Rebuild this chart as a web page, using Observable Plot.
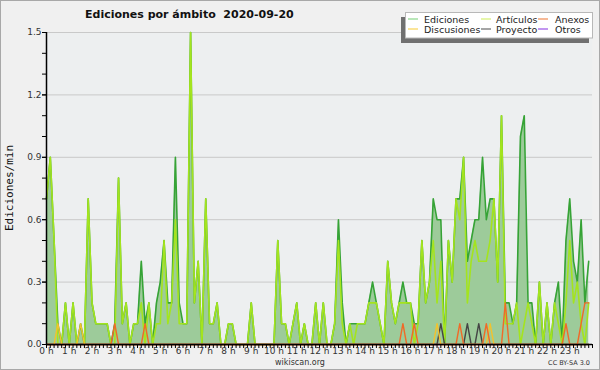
<!DOCTYPE html>
<html>
<head>
<meta charset="utf-8">
<script src="https://cdn.jsdelivr.net/npm/d3@7"></script>
<script src="https://cdn.jsdelivr.net/npm/@observablehq/plot@0.6"></script>
<style>
  html, body { margin: 0; padding: 0; background: #f0f0f0; }
  #chart { width: 600px; height: 370px; }
</style>
</head>
<body>
<div id="chart"></div>
<script>
// ---- data: edits per minute, one value per 10-minute bin (6 per hour) ----
const ediciones = [
  0.7, 0.9, 0.5, 0.1, 0,   0.2,   // 0 h
  0,   0.2, 0,   0.1, 0,   0.7,   // 1 h
  0.2, 0.1, 0.1, 0.1, 0.1, 0,     // 2 h
  0.1, 0.8, 0.1, 0.2, 0,   0.1,   // 3 h
  0.1, 0.4, 0.1, 0.2, 0,   0.2,   // 4 h
  0.3, 0.5, 0.2, 0.2, 0.9, 0.2,   // 5 h
  0.1, 0.1, 1.5, 0.2, 0.4, 0,     // 6 h
  0.7, 0.1, 0.1, 0.2, 0,   0,     // 7 h
  0.1, 0.1, 0,   0,   0,   0,     // 8 h
  0.2, 0,   0,   0,   0,   0,     // 9 h
  0,   0.5, 0.1, 0.1, 0,   0.1,   // 10 h
  0.2, 0,   0.1, 0,   0,   0.2,   // 11 h
  0,   0.2, 0,   0,   0.1, 0.6,   // 12 h
  0.2, 0,   0.1, 0.1, 0.1, 0.1,   // 13 h
  0.1, 0.2, 0.3, 0.2, 0.1, 0,     // 14 h
  0.4, 0.2, 0.1, 0.2, 0.3, 0.2,   // 15 h
  0.2, 0.1, 0.1, 0.5, 0.2, 0.3,   // 16 h
  0.7, 0.6, 0.6, 0,   0.5, 0.3,   // 17 h
  0.7, 0.7, 0.9, 0.4, 0.5, 0.6,   // 18 h
  0.6, 0.9, 0.6, 0.7, 0.7, 0.3,   // 19 h
  1.1, 0.2, 0.2, 0.1, 0.2, 1.0,   // 20 h
  1.1, 0.2, 0.2, 0,   0.3, 0,     // 21 h
  0.2, 0,   0.2, 0.3, 0,   0.5,   // 22 h
  0.7, 0.4, 0.3, 0.6, 0.2, 0.4    // 23 h
];
const articulos = [
  0.7, 0.9, 0.5, 0,   0,   0.2,
  0,   0.2, 0,   0,   0,   0.7,
  0.2, 0.1, 0.1, 0.1, 0.1, 0,
  0,   0.8, 0.1, 0.2, 0,   0.1,
  0.1, 0.2, 0,   0.2, 0,   0.1,
  0.1, 0.5, 0.1, 0.2, 0.6, 0.1,
  0.1, 0.1, 1.5, 0.2, 0.4, 0,
  0.7, 0.1, 0.1, 0.2, 0,   0,
  0.1, 0.1, 0,   0,   0,   0,
  0.2, 0,   0,   0,   0,   0,
  0,   0.5, 0.1, 0.1, 0,   0.1,
  0.2, 0,   0.1, 0,   0,   0.2,
  0,   0.2, 0,   0,   0.1, 0.5,
  0.1, 0,   0.1, 0,   0.1, 0.1,
  0.1, 0.2, 0.2, 0.2, 0.1, 0,
  0.4, 0.2, 0.1, 0.2, 0.2, 0.2,
  0.2, 0,   0.1, 0.5, 0.2, 0.3,
  0.5, 0.2, 0.4, 0,   0.5, 0.3,
  0.7, 0.6, 0.9, 0.2, 0.4, 0.5,
  0.4, 0.4, 0.4, 0.5, 0.7, 0.3,
  1.1, 0.1, 0.1, 0.1, 0.2, 0,
  0.1, 0.2, 0.1, 0,   0.3, 0,
  0.2, 0,   0.2, 0.1, 0,   0.2,
  0.5, 0.2, 0.3, 0.1, 0,   0.2
];
const anexos = [
  0, 0, 0, 0, 0, 0,
  0, 0, 0, 0, 0, 0,
  0, 0, 0, 0, 0, 0,
  0.1, 0, 0, 0, 0, 0,
  0, 0, 0.1, 0, 0, 0,
  0, 0, 0, 0, 0, 0,
  0, 0, 0, 0, 0, 0,
  0, 0, 0, 0, 0, 0,
  0, 0, 0, 0, 0, 0,
  0, 0, 0, 0, 0, 0,
  0, 0, 0, 0, 0, 0,
  0, 0, 0, 0, 0, 0,
  0, 0, 0, 0, 0, 0,
  0, 0, 0, 0, 0, 0,
  0, 0, 0, 0, 0, 0,
  0, 0, 0, 0, 0.1, 0,
  0, 0.1, 0, 0, 0, 0,
  0, 0, 0, 0, 0, 0,
  0, 0.1, 0, 0, 0, 0,
  0, 0, 0.1, 0, 0, 0,
  0, 0.2, 0, 0, 0, 0,
  0, 0, 0, 0, 0, 0,
  0, 0, 0, 0, 0, 0.1,
  0, 0, 0, 0.1, 0.2, 0.2
];
const discusiones = [
  0, 0, 0, 0.1, 0, 0,
  0, 0, 0, 0.1, 0, 0,
  0, 0, 0, 0, 0, 0,
  0, 0, 0, 0, 0, 0,
  0, 0, 0, 0, 0, 0,
  0, 0, 0, 0, 0, 0,
  0, 0, 0, 0, 0, 0,
  0, 0, 0, 0, 0, 0,
  0, 0, 0, 0, 0, 0,
  0, 0, 0, 0, 0, 0,
  0, 0, 0, 0, 0, 0,
  0, 0, 0, 0, 0, 0,
  0, 0, 0, 0, 0, 0,
  0, 0, 0, 0, 0, 0,
  0, 0, 0, 0, 0, 0,
  0, 0, 0, 0, 0, 0,
  0, 0, 0, 0, 0, 0,
  0, 0.1, 0, 0, 0, 0,
  0, 0, 0, 0, 0, 0,
  0, 0, 0, 0.1, 0, 0,
  0, 0, 0, 0, 0, 0,
  0, 0, 0, 0, 0, 0,
  0, 0, 0, 0, 0, 0,
  0, 0, 0, 0, 0, 0
];
const proyecto = [
  0, 0, 0, 0, 0, 0,
  0, 0, 0, 0, 0, 0,
  0, 0, 0, 0, 0, 0,
  0, 0, 0, 0, 0, 0,
  0, 0, 0, 0, 0, 0,
  0, 0, 0, 0, 0, 0,
  0, 0, 0, 0, 0, 0,
  0, 0, 0, 0, 0, 0,
  0, 0, 0, 0, 0, 0,
  0, 0, 0, 0, 0, 0,
  0, 0, 0, 0, 0, 0,
  0, 0, 0, 0, 0, 0,
  0, 0, 0, 0, 0, 0,
  0, 0, 0, 0, 0, 0,
  0, 0, 0, 0, 0, 0,
  0, 0, 0, 0, 0, 0,
  0, 0, 0, 0, 0, 0,
  0, 0, 0.1, 0, 0, 0,
  0, 0, 0, 0.1, 0, 0,
  0.1, 0, 0, 0, 0, 0,
  0, 0, 0, 0, 0, 0,
  0, 0, 0, 0, 0, 0,
  0, 0, 0, 0, 0, 0,
  0, 0, 0, 0, 0, 0
];
const otros = [
  0, 0, 0, 0, 0, 0,  0, 0, 0, 0, 0, 0,  0, 0, 0, 0, 0, 0,  0, 0, 0, 0, 0, 0,
  0, 0, 0, 0, 0, 0,  0, 0, 0, 0, 0, 0,  0, 0, 0, 0, 0, 0,  0, 0, 0, 0, 0, 0,
  0, 0, 0, 0, 0, 0,  0, 0, 0, 0, 0, 0,  0, 0, 0, 0, 0, 0,  0, 0, 0, 0, 0, 0,
  0, 0, 0, 0, 0, 0,  0, 0, 0, 0, 0, 0,  0, 0, 0, 0, 0, 0,  0, 0, 0, 0, 0, 0,
  0, 0, 0, 0, 0, 0,  0, 0, 0, 0, 0, 0,  0, 0, 0, 0, 0, 0,  0, 0, 0, 0, 0, 0,
  0, 0, 0, 0, 0, 0,  0, 0, 0, 0, 0, 0,  0, 0, 0, 0, 0, 0,  0, 0, 0, 0, 0, 0
];
const horas = ["0 h","1 h","2 h","3 h","4 h","5 h","6 h","7 h","8 h","9 h","10 h","11 h",
               "12 h","13 h","14 h","15 h","16 h","17 h","18 h","19 h","20 h","21 h","22 h","23 h"];
const yTicks = [0, 0.3, 0.6, 0.9, 1.2, 1.5];
const seriesNames = ["Ediciones", "Artículos", "Anexos", "Discusiones", "Proyecto", "Otros"];
const title = "Ediciones por ámbito  2020-09-20";

// ---- table ----
const rows = ediciones.map((v, i) => ({
  t: i / 6,
  edi: v, art: articulos[i], anx: anexos[i], dis: discusiones[i], pro: proyecto[i], otr: otros[i]
}));

const C = {
  ediLine: "#36a336", ediFill: "#9dcb9a", art: "#a4e41e",
  anx: "#f06a28", dis: "#f2c22e", pro: "#454545", otr: "#8a44d8"
};
const legendColors = ["#8ad88a", "#d6f074", "#f08a52", "#f8d456", "#6a6a6a", "#9a52e6"];

const minorY = d3.range(0, 16).map(d => d / 10);
const minorX = d3.range(0, 145).map(d => d / 6);
const hourTicks = d3.range(0, 24);

const chart = Plot.plot({
  width: 600,
  height: 370,
  marginLeft: 46,
  marginRight: 8,
  marginTop: 32,
  marginBottom: 26,
  style: { background: "#f0f0f0", fontFamily: "DejaVu Sans", fontSize: "9px", color: "#333" },
  x: { domain: [0, 24], axis: null, label: null },
  y: { domain: [0, 1.5], axis: null, label: null },
  marks: [
    Plot.frame({ fill: "#edeff0", stroke: "none" }),
    Plot.gridY(yTicks, { stroke: "#c9c9c9", strokeOpacity: 1, strokeWidth: 1 }),
    Plot.areaY(rows, { x: "t", y: "edi", fill: C.ediFill }),
    Plot.lineY(rows, { x: "t", y: "edi", stroke: C.ediLine, strokeWidth: 1.6 }),
    Plot.lineY(rows, { x: "t", y: "art", stroke: C.art, strokeWidth: 1.6 }),
    Plot.lineY(rows, { x: "t", y: "otr", stroke: C.otr, strokeWidth: 1.4 }),
    Plot.lineY(rows, { x: "t", y: "pro", stroke: C.pro, strokeWidth: 1.4 }),
    Plot.lineY(rows, { x: "t", y: "dis", stroke: C.dis, strokeWidth: 1.4 }),
    Plot.lineY(rows, { x: "t", y: "anx", stroke: C.anx, strokeWidth: 1.4 }),
    Plot.axisY(minorY, { tickSize: 4, tickFormat: () => "", stroke: "#000", label: null }),
    Plot.axisY(yTicks, { tickSize: 4, tickPadding: 1, tickFormat: d => d.toFixed(1), stroke: "#000", fill: "#333", label: null }),
    Plot.axisX(minorX, { tickSize: 4, tickFormat: () => "", stroke: "#000", label: null }),
    Plot.axisX(hourTicks, { tickSize: 0, tickPadding: 3, tickFormat: d => horas[d], fill: "#333", label: null }),
    Plot.ruleX([0], { stroke: "#000", strokeWidth: 1.5 }),
    Plot.ruleY([0], { stroke: "#000", strokeWidth: 1.5 })
  ]
});

document.getElementById("chart").appendChild(chart);

// ---- decorations: title, y label, legend, footer, border ----
const svg = d3.select(chart);

svg.append("text")
  .attr("x", 85).attr("y", 18).attr("text-anchor", "start")
  .attr("font-family", "DejaVu Sans").attr("font-weight", "bold").attr("font-size", 11)
  .attr("fill", "#111")
  .text(title);

svg.append("text")
  .attr("transform", "translate(13,188) rotate(-90)")
  .attr("text-anchor", "middle")
  .attr("font-family", "DejaVu Sans Mono").attr("font-size", 11)
  .attr("fill", "#111")
  .text("Ediciones/min");

const lg = svg.append("g");
lg.append("rect").attr("x", 401).attr("y", 17).attr("width", 188).attr("height", 26).attr("fill", "#707070");
lg.append("rect").attr("x", 405.5).attr("y", 12.5).attr("width", 187).attr("height", 25.5)
  .attr("fill", "#ffffff").attr("stroke", "#b8b8b8");
const colLine = [408, 481, 538];
const colText = [424, 496, 555];
const rowY = [19, 29];
seriesNames.forEach((name, k) => {
  const col = k % 3, row = Math.floor(k / 3);
  lg.append("line")
    .attr("x1", colLine[col]).attr("x2", colLine[col] + 10)
    .attr("y1", rowY[row]).attr("y2", rowY[row])
    .attr("stroke", legendColors[k]).attr("stroke-width", 1.2);
  lg.append("text")
    .attr("x", colText[col]).attr("y", rowY[row] + 3.5).attr("text-anchor", "start")
    .attr("font-family", "DejaVu Sans").attr("font-size", 9.5)
    .attr("fill", "#222")
    .text(name);
});

svg.append("text")
  .attr("x", 300).attr("y", 365).attr("text-anchor", "middle")
  .attr("font-family", "DejaVu Sans").attr("font-size", 8).attr("fill", "#333")
  .text("wikiscan.org");

svg.append("text")
  .attr("x", 590).attr("y", 365).attr("text-anchor", "end")
  .attr("font-family", "DejaVu Sans").attr("font-size", 6.5).attr("fill", "#333")
  .text("CC BY-SA 3.0");

svg.append("rect")
  .attr("x", 0.5).attr("y", 0.5).attr("width", 599).attr("height", 369)
  .attr("fill", "none").attr("stroke", "#a8a8a8");
</script>
</body>
</html>
